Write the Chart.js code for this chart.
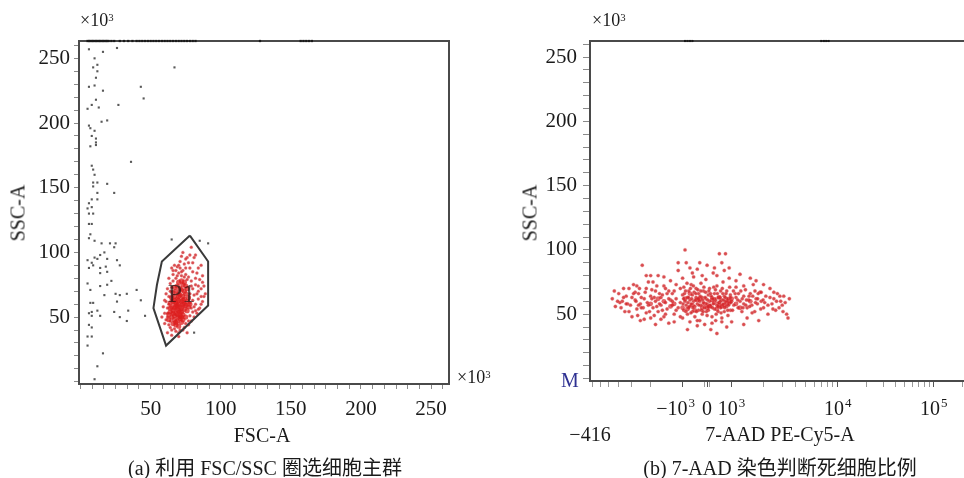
<!DOCTYPE html>
<html>
<head>
<meta charset="utf-8">
<script src="https://cdn.jsdelivr.net/npm/chart.js@4.4.0/dist/chart.umd.min.js"></script>
<style>
body { margin: 0; width: 964px; height: 478px; overflow: hidden; background: #fff; position: relative;
       font-family: "Liberation Serif", "Noto Sans CJK SC", serif; color: #1a1a1a; }
canvas { position: absolute; top: 0; }
#chartA { left: 0; }
#chartB { left: 480px; }
.lbl { position: absolute; transform: translate(-50%, -50%); white-space: nowrap; }
.left { transform: translate(0, -50%); }
.rot { transform: translate(-50%, -50%) rotate(-90deg); }
sup { font-size: 0.6em; position: relative; top: -0.45em; vertical-align: baseline; }
</style>
</head>
<body>
<canvas id="chartA" width="480" height="478"></canvas>
<canvas id="chartB" width="520" height="478"></canvas>

<div class="lbl left" style="left:80px;top:20px;font-size:18px">×10<sup>3</sup></div>
<div class="lbl rot" style="left:18px;top:213px;font-size:20px">SSC-A</div>
<div class="lbl" style="left:262px;top:435px;font-size:20px">FSC-A</div>
<div class="lbl left" style="left:457px;top:377px;font-size:18px">×10<sup>3</sup></div>
<div class="lbl" style="left:265px;top:466px;font-size:20px">(a) 利用 FSC/SSC 圈选细胞主群</div>

<div class="lbl left" style="left:592px;top:20px;font-size:18px">×10<sup>3</sup></div>
<div class="lbl rot" style="left:530px;top:213px;font-size:20px">SSC-A</div>
<div class="lbl" style="left:570px;top:380px;font-size:20px;color:#2e3192">M</div>
<div class="lbl" style="left:590px;top:434px;font-size:20px">−416</div>
<div class="lbl" style="left:780px;top:434px;font-size:20px">7-AAD PE-Cy5-A</div>
<div class="lbl" style="left:780px;top:466px;font-size:20px">(b) 7-AAD 染色判断死细胞比例</div>

<script>
// ---- panel (a): FSC-A vs SSC-A, values x10^3 ----
const gateP1 = [[78, 113], [91, 93], [91, 59], [61, 28], [52, 57], [54.5, 75], [58, 93], [78, 113]];
const gateLabel = 'P1';
const gateLabelAt = [72, 67];

// events outside the gate (grey)
const debrisA = [
  [6,257],[16,255],[26,258],[10,250],[12,245],[9,243],[12,240],[11,235],[6,228],[10,229],[16,225],[11,218],
  [8,214],[13,212],[5,211],[27,214],[43,228],[45,219],[67,243],[15,201],[19,202],[6,198],[7,196],[10,194],
  [8,190],[11,188],[11,185],[7,182],[11,183],[36,170],[8,167],[9,164],[10,160],[9,154],[12,154],[9,151],
  [19,153],[24,146],[12,146],[12,141],[8,141],[6,138],[5,134],[8,135],[9,130],[6,130],[6,122],[8,122],
  [7,114],[6,111],[10,109],[15,107],[21,107],[25,107],[24,104],[17,100],[14,98],[10,96],[5,94],[8,92],
  [12,95],[19,95],[26,94],[6,88],[9,90],[14,88],[18,89],[19,85],[14,84],[28,90],[22,78],[14,74],[19,75],
  [5,76],[7,71],[25,68],[28,67],[33,68],[40,71],[43,63],[17,67],[26,62],[7,61],[9,61],[12,55],[8,54],
  [6,53],[8,51],[14,51],[24,54],[34,55],[28,50],[33,47],[46,51],[6,44],[8,42],[8,35],[5,35],[5,28],
  [16,22],[12,12],[10,2],[65,110],[85,109],[91,107],[81,38]
];
// events piled up at the top of the SSC range
const saturatedA = [5,6,7,8,9,10,11,12,13,14,15,16,17,18,19,20,22,24,28,31,34,37,40,42,44,46,48,50,52,54,
  56,58,60,62,64,66,68,70,72,74,76,78,80,82,128,157,159,161,163,165];

// P1 population (red)
const coreA = [
  [66,45],[68,44],[70,43],[72,46],[67,48],[69,47],[71,49],[73,48],[65,50],[67,51],[69,52],[71,51],[73,52],
  [75,50],[64,54],[66,55],[68,53],[70,55],[72,54],[74,56],[76,55],[65,58],[67,57],[69,59],[71,58],[73,60],
  [75,59],[77,58],[64,61],[66,62],[68,61],[70,63],[72,62],[74,64],[76,62],[65,65],[67,66],[69,64],[71,67],
  [73,66],[75,68],[77,65],[66,69],[68,70],[70,68],[72,71],[74,70],[76,72],[67,73],[69,74],[71,72],[73,75],
  [75,74],[70,77],[72,78],[74,77],[68,46],[70,50],[66,53],[72,57],[68,60],[74,60],[70,60],[69,56],[71,54],
  [67,63],[73,63],[70,66],[68,58],[72,50],[63,52],[64,57],[78,60],[63,48]
];
const haloA = [
  [62,38],[65,36],[68,39],[71,40],[74,42],[77,44],[79,47],[81,50],[83,53],[85,57],[82,60],[80,63],[78,68],
  [80,72],[82,75],[84,70],[86,66],[87,62],[79,78],[77,81],[75,83],[73,86],[70,84],[68,80],[66,78],[64,76],
  [62,72],[61,68],[60,63],[59,58],[60,53],[61,48],[63,44],[62,57],[63,66],[78,88],[74,91],[71,93],[80,92],
  [76,96],[69,89],[83,84],[85,79],[88,74],[87,82],[66,86],[82,98],[73,100],[79,104],[64,42],[58,50],[84,64],
  [76,38],[70,35],[89,68],[86,90],
  [60,45],[62,50],[63,60],[61,62],[64,70],[65,73],[63,80],[66,83],[68,86],[70,90],[72,82],[75,88],[77,92],
  [80,85],[82,80],[84,74],[86,72],[88,66],[86,60],[84,56],[82,55],[80,54],[78,51],[77,47],[75,45],[73,40],
  [70,38],[67,41],[65,40],[64,47],[62,53],[81,67],[79,74],[83,68],[78,61],[79,57],[81,58],[76,79],[74,81],
  [72,85],[69,82],[71,88],[67,90],[65,88],[75,95],[78,98],[81,96],[72,97],[84,88],[87,77]
];
const yTicksA = [0,10,20,30,40,50,60,70,80,90,100,110,120,130,140,150,160,170,180,190,200,210,220,230,240,250,260];
const xTicksA = Array.from({ length: 32 }, (_, i) => Math.round(i * 50 / 6 * 1000) / 1000);
const majorLabels = [50, 100, 150, 200, 250];

// ---- panel (b): 7-AAD PE-Cy5-A vs SSC-A ----
const cellsB = [
  [-4600,62],[-4300,56],[-4000,66],[-3700,60],[-3500,52],[-3400,64],[-3200,70],[-3100,57],[-3000,48],[-2900,73],
  [-2800,61],[-2700,54],[-2600,66],[-2500,45],[-2500,58],[-2400,88],[-2300,62],[-2200,51],[-2200,70],[-2100,57],
  [-2000,64],[-2000,47],[-1900,75],[-1900,55],[-1800,60],[-1800,68],[-1700,52],[-1700,80],[-1600,57],[-1600,63],
  [-1500,72],[-1500,48],[-1450,59],[-1400,66],[-1400,54],[-1350,43],[-1300,61],[-1300,76],[-1250,57],[-1200,50],
  [-1200,68],[-1150,62],[-1100,55],[-1100,84],[-1050,59],[-1000,65],[-1000,47],[-950,71],[-950,53],[-900,60],
  [-900,100],[-850,57],[-850,90],[-800,63],[-800,50],[-750,68],[-750,55],[-700,61],[-700,44],[-650,73],[-650,58],
  [-600,52],[-600,65],[-550,60],[-550,79],[-500,56],[-500,48],[-450,63],[-450,70],[-400,58],[-400,85],[-350,53],
  [-350,66],[-300,60],[-300,45],[-250,57],[-250,74],[-200,63],[-200,50],[-150,59],[-150,68],[-100,55],[-100,42],
  [-50,62],[-50,77],[0,58],[0,49],[50,65],[50,53],[100,60],[100,70],[150,56],[150,38],[200,63],[200,48],[250,58],
  [250,82],[300,54],[300,66],[350,61],[350,45],[400,57],[400,72],[450,63],[450,52],[500,59],[500,97],[550,55],
  [550,68],[600,61],[600,47],[650,58],[650,75],[700,64],[700,52],[750,60],[750,97],[800,56],[800,68],[850,62],
  [850,49],[900,58],[900,78],[950,65],[950,53],[1000,60],[1000,44],[1050,57],[1100,63],[1100,71],[1150,55],
  [1200,60],[1200,81],[1250,52],[1300,64],[1300,58],[1350,69],[1400,55],[1400,47],[1450,61],[1500,66],[1550,57],
  [1600,73],[1650,52],[1700,62],[1750,58],[1800,45],[1850,67],[1900,60],[2000,55],[2100,64],[2200,50],[2300,70],
  [2400,58],[2500,62],[2600,53],[2700,66],[2900,60],[3000,57],[3100,64],[3300,50],[3400,47],
  [-2450,63],[-2350,55],[-2250,67],[-2150,59],[-2050,52],[-1950,69],[-1850,63],[-1750,56],[-1650,66],[-1550,53],
  [-1450,70],[-1350,62],[-1250,66],[-1150,53],[-1050,70],[-980,58],[-920,66],[-870,52],[-820,74],[-780,59],
  [-720,56],[-680,70],[-630,62],[-580,55],[-530,67],[-480,61],[-430,52],[-380,69],[-330,57],[-280,64],[-230,53],
  [-180,61],[-130,71],[-80,63],[-30,52],[20,61],[70,68],[120,57],[170,64],[220,55],[270,71],[320,62],[370,50],
  [420,66],[470,59],[520,63],[570,51],[620,70],[670,61],[720,55],[770,66],[820,62],[870,57],[920,71],[970,59],
  [1020,53],[1080,66],[1140,61],[1220,68],[1280,55],[1380,61],[1480,56],[1580,64],[1680,59],[1780,66],[1880,54],
  [1980,61],[-2600,57],[-2800,67],[-3000,63],[-3300,58],[-3600,63],[-3900,59],[2200,57],[2500,67],[2800,55],
  [3200,59],[-1000,78],[-600,82],[-200,80],[300,86],[700,84],[1100,76],[-1500,79],[1500,78],[-2000,80],[-300,90],
  [600,90],[-2700,72],[2000,73],[-1200,44],[-400,41],[200,43],[800,40],[-800,38],[400,35],[-1800,42],[1300,42],
  [-4400,68],[-4100,60],[-3800,55],[-3600,70],[-3400,58],[-3200,52],[-2900,66],[-2750,60],[-2650,49],[-2550,70],
  [-2450,55],[-2300,46],[-2100,75],[-1950,62],[-1850,49],[-1750,72],[-1650,58],[-1550,65],[-1450,50],[-1350,68],
  [-1250,60],[-1150,73],[-1050,48],[-960,62],[-880,68],[-760,63],[-660,51],[-560,72],[-460,66],[-360,62],
  [-260,68],[-160,52],[-60,67],[40,56],[140,66],[240,62],[340,69],[440,56],[540,60],[640,66],[740,63],[840,53],
  [940,63],[1040,68],[1160,66],[1260,62],[1360,57],[1460,64],[1560,51],[1660,68],[1760,62],[1900,67],[2050,59],
  [2300,63],[2450,54],[2650,60],[2850,64],[3050,52],[3500,62],[-1100,90],[-700,86],[0,88],[400,80],[900,86],
  [1300,72],[-2200,80],[1700,76],[-400,45],[600,44],[-1600,46]
];
const coreB = [
  [-1500,60],[-1200,58],[-900,62],[-600,57],[-300,62],[0,55],[300,59],[600,56],[900,60],[1200,55],[-1000,55],
  [-700,66],[-400,61],[-100,58],[200,61],[500,57],[800,59],[1100,58],[-1300,56],[-500,53],[100,56],[700,57],
  [1000,62],[400,54],[-1700,62],[-2000,58],[1500,60],[-800,54],[-200,55],[500,63]
];
const saturatedB = [-900, -800, -700, -600, 7000, 7400, 7800, 8200];
const xTicksB = [-7000,-6000,-5000,-4000,-3000,-2000,-1000,-100,0,100,1000,2000,3000,4000,5000,6000,7000,8000,9000,
  10000,20000,30000,40000,50000,60000,70000,80000,90000,100000,200000];
// tick label: [base, superscript]
const xTickLabelsB = { '-1000': ['−10', '3'], '0': ['0', ''], '1000': ['10', '3'], '10000': ['10', '4'], '100000': ['10', '5'] };
const yTicksB = yTicksA;

const FONT = 'Liberation Serif';
const INK = '#1a1a1a';

// biexponential-like display transform for the 7-AAD axis
function biex(v) {
  const a = Math.abs(v);
  if (a <= 1000) return v / 1000 * 24.5;
  const g = a <= 1e4 ? 106 * Math.log10(a / 1000) : 106 + 96 * Math.log10(a / 1e4);
  return Math.sign(v) * (24.5 + g);
}
function biexInv(u) {
  const a = Math.abs(u);
  if (a <= 24.5) return u / 24.5 * 1000;
  const g = a - 24.5;
  const v = g <= 106 ? 1000 * Math.pow(10, g / 106) : 1e4 * Math.pow(10, (g - 106) / 96);
  return Math.sign(u) * v;
}

class BiexScale extends Chart.LinearScale {
  buildTicks() {
    return xTicksB.map(v => ({ value: v }));
  }
  getPixelForValue(value) {
    const a = biex(this.min), b = biex(this.max);
    return this.getPixelForDecimal((biex(value) - a) / (b - a));
  }
  getValueForPixel(pixel) {
    const a = biex(this.min), b = biex(this.max);
    return biexInv(a + this.getDecimalForPixel(pixel) * (b - a));
  }
}
BiexScale.id = 'biex';
BiexScale.defaults = Chart.LinearScale.defaults;
Chart.register(BiexScale);

const pts = arr => arr.map(([x, y]) => ({ x, y }));
const isMajor = v => majorLabels.some(m => Math.abs(m - v) < 1e-6);

function framePlugin(closed) {
  return {
    id: 'frame',
    beforeDatasetsDraw(chart) {
      const { ctx, chartArea: c } = chart;
      ctx.save();
      ctx.strokeStyle = '#4a4a4a';
      ctx.lineWidth = 2;
      ctx.beginPath();
      if (closed) {
        ctx.rect(c.left, c.top, c.right - c.left, c.bottom - c.top);
      } else {
        ctx.moveTo(c.right + 5, c.top);
        ctx.lineTo(c.left, c.top);
        ctx.lineTo(c.left, c.bottom);
        ctx.lineTo(c.right + 5, c.bottom);
      }
      ctx.stroke();
      ctx.restore();
    }
  };
}

const gateText = {
  id: 'gateText',
  afterDatasetsDraw(chart) {
    const { ctx, scales } = chart;
    ctx.save();
    ctx.font = '26px "' + FONT + '"';
    ctx.fillStyle = 'rgba(30, 20, 20, 0.7)';
    ctx.textAlign = 'center';
    ctx.textBaseline = 'middle';
    ctx.fillText(gateLabel, scales.x.getPixelForValue(gateLabelAt[0]), scales.y.getPixelForValue(gateLabelAt[1]));
    ctx.restore();
  }
};

// draws the decade labels of the 7-AAD axis with real superscripts
const decadeLabels = {
  id: 'decadeLabels',
  afterDraw(chart) {
    const { ctx } = chart;
    const sx = chart.scales.x;
    const base = sx.bottom - sx.height + 34;
    ctx.save();
    ctx.fillStyle = INK;
    ctx.textBaseline = 'alphabetic';
    sx.ticks.forEach(t => {
      const lab = xTickLabelsB[String(t.value)];
      if (!lab) return;
      ctx.font = '20px "' + FONT + '"';
      const w1 = ctx.measureText(lab[0]).width;
      ctx.font = '13px "' + FONT + '"';
      const w2 = lab[1] ? ctx.measureText(lab[1]).width + 1 : 0;
      // negative labels sit a little to the left, as in the source plot
      const shift = t.value < 0 ? -7 : 0;
      const x0 = sx.getPixelForValue(t.value) - (w1 + w2) / 2 + shift;
      ctx.font = '20px "' + FONT + '"';
      ctx.fillText(lab[0], x0, base);
      if (lab[1]) {
        ctx.font = '13px "' + FONT + '"';
        ctx.fillText(lab[1], x0 + w1 + 1, base - 8);
      }
    });
    ctx.restore();
  }
};

function yAxis(width, tickLen, pad, ticks) {
  return {
    type: 'linear', min: -1.7, max: 263.4,
    afterBuildTicks: s => { s.ticks = ticks.map(v => ({ value: v })); },
    afterFit: s => { s.width = width; },
    border: { display: false },
    grid: { drawOnChartArea: false, tickLength: tickLen, tickColor: '#8a8a8a' },
    ticks: { autoSkip: false, padding: pad, color: INK, font: { family: FONT, size: 21 },
             callback: v => isMajor(v) ? String(v) : '' }
  };
}

const redDot = 'rgba(208, 32, 36, 0.8)';
const redEdge = 'rgba(230, 130, 130, 0.35)';

new Chart(document.getElementById('chartA'), {
  type: 'scatter',
  data: {
    datasets: [
      { label: 'P1 gate', data: pts(gateP1), showLine: true, borderColor: '#3a3a3a', borderWidth: 2,
        pointRadius: 0, tension: 0 },
      { label: 'P1 core', data: pts(coreA), backgroundColor: 'rgba(220, 30, 30, 0.75)', borderWidth: 0, pointRadius: 2.6 },
      { label: 'P1', data: pts(haloA), backgroundColor: redDot, borderColor: redEdge, borderWidth: 1, pointRadius: 1.5 },
      { label: 'debris', data: pts(debrisA), backgroundColor: 'rgba(60, 60, 60, 0.85)', borderWidth: 0,
        pointStyle: 'rect', pointRadius: 1.5 },
      { label: 'saturated', data: saturatedA.map(x => ({ x, y: 263.4 })), backgroundColor: '#1a1a1a',
        borderWidth: 0, pointStyle: 'rect', pointRadius: 1.6, clip: false }
    ]
  },
  options: {
    responsive: false, animation: false,
    layout: { padding: { left: 0, top: 41, right: 31, bottom: 0 } },
    plugins: { legend: { display: false }, tooltip: { enabled: false } },
    scales: {
      x: {
        type: 'linear', min: -1.1, max: 262.8,
        afterBuildTicks: s => { s.ticks = xTicksA.map(v => ({ value: v })); },
        afterFit: s => { s.height = 94; },
        border: { display: false },
        grid: { drawOnChartArea: false, tickLength: 5, tickColor: '#8a8a8a' },
        ticks: { autoSkip: false, maxRotation: 0, padding: 8, color: INK, font: { family: FONT, size: 21 },
                 callback: v => isMajor(v) ? String(Math.round(v)) : '' }
      },
      y: yAxis(79, 5, 4, yTicksA)
    }
  },
  plugins: [framePlugin(true), gateText]
});

const yB = yAxis(110, 7, 6, yTicksB);
yB.min = -2; yB.max = 262.5;

new Chart(document.getElementById('chartB'), {
  type: 'scatter',
  data: {
    datasets: [
      { label: '7-AAD core', data: pts(coreB), backgroundColor: 'rgba(215, 35, 40, 0.7)', borderWidth: 0, pointRadius: 2.4 },
      { label: '7-AAD', data: pts(cellsB), backgroundColor: redDot, borderColor: redEdge, borderWidth: 1, pointRadius: 1.7 },
      { label: 'saturated', data: saturatedB.map(x => ({ x, y: 262.5 })), backgroundColor: '#1a1a1a',
        borderWidth: 0, pointStyle: 'rect', pointRadius: 1.5, clip: false }
    ]
  },
  options: {
    responsive: false, animation: false,
    layout: { padding: { left: 0, top: 41, right: 26, bottom: 0 } },
    plugins: { legend: { display: false }, tooltip: { enabled: false } },
    scales: {
      x: {
        type: 'biex', min: -7460, max: 262144,
        afterFit: s => { s.height = 97; },
        border: { display: false },
        grid: { drawOnChartArea: false, tickLength: 6,
                tickColor: c => (c.tick && xTickLabelsB[String(c.tick.value)]) ? '#555' : '#999' },
        ticks: { display: false }
      },
      y: yB
    }
  },
  plugins: [framePlugin(false), decadeLabels]
});
</script>
</body>
</html>
